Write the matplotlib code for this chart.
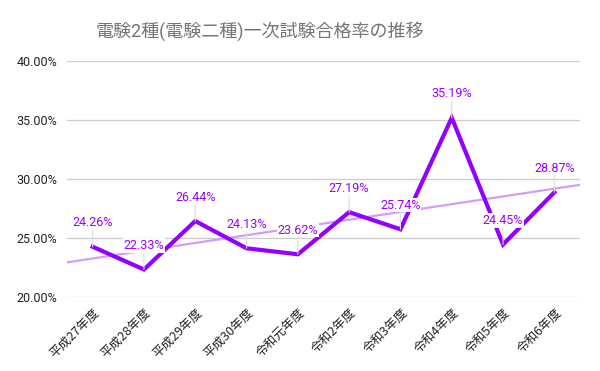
"""
電験2種 一次試験 合格率の推移 (line chart with linear trendline).

Outputs: out.png
"""

import numpy as np
import matplotlib
matplotlib.use("Agg")
import matplotlib.pyplot as plt
from matplotlib.ticker import FuncFormatter

# ── Data ────────────────────────────────────────────────────────────────
years = ["平成27年度", "平成28年度", "平成29年度", "平成30年度", "令和元年度",
         "令和2年度", "令和3年度", "令和4年度", "令和5年度", "令和6年度"]
pass_rate = [24.26, 22.33, 26.44, 24.13, 23.62, 27.19, 25.74, 35.19, 24.45, 28.87]
y_ticks = [20, 25, 30, 35, 40]

title = "電験2種(電験二種)一次試験合格率の推移"

# ── Style ───────────────────────────────────────────────────────────────
FONTS = ["Roboto", "Noto Sans CJK JP", "DejaVu Sans"]
plt.rcParams["font.family"] = FONTS

LINE_COLOR = "#9300ff"
TREND_COLOR = "#d49cfa"
LABEL_COLOR = "#9900ff"
GRID_COLOR = "#cccccc"


def plot():
    fig = plt.figure(figsize=(6.0, 3.71), dpi=100)
    ax = fig.add_axes([67 / 600, 1 - 297 / 371, 513 / 600, 236 / 371])

    x = np.arange(len(years))

    # Linear trendline across the whole plot area
    slope, intercept = np.polyfit(x, pass_rate, 1)
    xt = np.array([-0.5, len(years) - 0.5])
    ax.plot(xt, slope * xt + intercept, color=TREND_COLOR, lw=1.6, zorder=2)

    ax.plot(x, pass_rate, color=LINE_COLOR, lw=3.0, zorder=3,
            solid_joinstyle="miter")

    # Data labels with short leader lines
    for xi, v in zip(x, pass_rate):
        ax.annotate(f"{v:.2f}%", xy=(xi, v), xytext=(0, 24),
                    textcoords="offset pixels", ha="center", va="center",
                    fontsize=9, color=LABEL_COLOR, zorder=5,
                    bbox=dict(boxstyle="square,pad=0.05", fc="white",
                              ec="none"),
                    arrowprops=dict(arrowstyle="-", color="#dddddd", lw=0.8,
                                    shrinkA=0, shrinkB=0))

    ax.set_xlim(-0.5, len(years) - 0.5)
    ax.set_ylim(y_ticks[0], y_ticks[-1])
    ax.set_yticks(y_ticks)
    ax.yaxis.set_major_formatter(FuncFormatter(lambda v, _: f"{v:.2f}%"))
    ax.set_xticks(x)
    ax.set_xticklabels(years, rotation=45, ha="right", va="top",
                       rotation_mode="anchor", fontsize=9,
                       family=["Noto Sans CJK JP", "DejaVu Sans"])
    ax.tick_params(axis="y", length=0, pad=7, labelsize=9,
                   labelcolor="#222222")
    ax.tick_params(axis="x", length=0, pad=6, labelcolor="#222222")

    ax.grid(axis="y", color=GRID_COLOR, lw=0.9)
    ax.set_axisbelow(True)
    for sp in ax.spines.values():
        sp.set_visible(False)

    fig.text(260 / 600, 1 - 31 / 371, title, ha="center", va="center",
             fontsize=13, color="#757575", family=FONTS)

    fig.savefig("out.png", dpi=100)
    return fig


if __name__ == "__main__":
    plot()
